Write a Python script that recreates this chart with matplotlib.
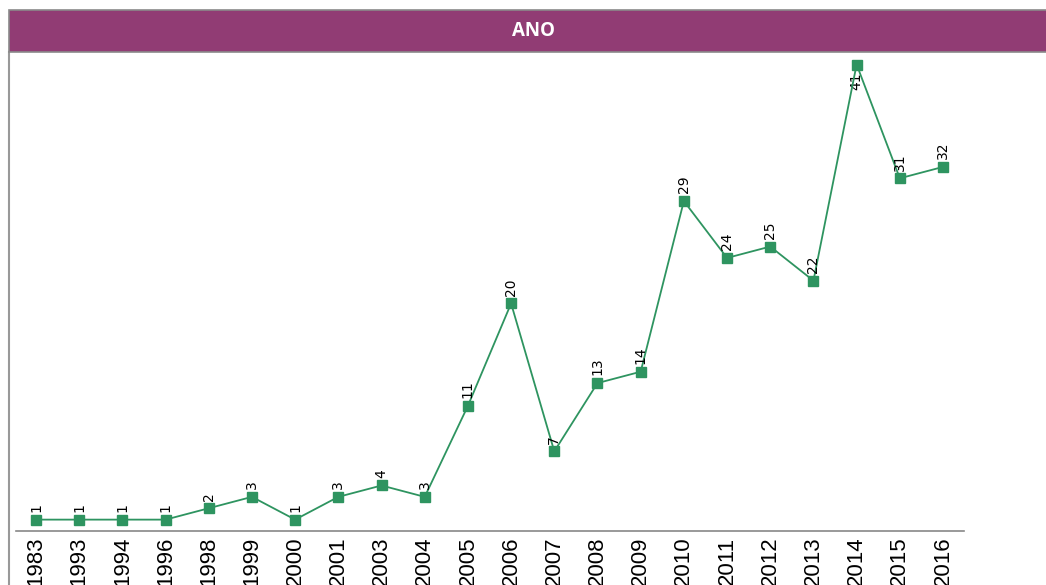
import matplotlib
matplotlib.use("Agg")
import matplotlib.pyplot as plt
from matplotlib.patches import Rectangle
from matplotlib.lines import Line2D

years = ["1983", "1993", "1994", "1996", "1998", "1999", "2000", "2001", "2003", "2004", "2005",
         "2006", "2007", "2008", "2009", "2010", "2011", "2012", "2013", "2014", "2015", "2016"]
counts = [1, 1, 1, 1, 2, 3, 1, 3, 4, 3, 11, 20, 7, 13, 14, 29, 24, 25, 22, 41, 31, 32]
title = "ANO"

W, H = 1046, 585
fig = plt.figure(figsize=(W / 100, H / 100), dpi=100)
fig.patch.set_facecolor("white")

ax = fig.add_axes([16 / W, (H - 531) / H, (964 - 16) / W, (531 - 52) / H])
x = list(range(len(years)))
ax.plot(x, counts, color="#2e9460", lw=1.3, marker="s", ms=7.5, mec="#2e9460", mfc="#2e9460", zorder=3)
ax.set_xlim(-0.463, len(years) - 0.514)
ax.set_ylim(0, 42.1)
ax.set_yticks([])
ax.set_xticks(x)
ax.set_xticklabels(years, rotation=90, fontsize=16, family="Liberation Sans", va="top", ha="center")
ax.tick_params(axis="x", length=0, pad=4)
for s in ["top", "right", "left"]:
    ax.spines[s].set_visible(False)
ax.spines["bottom"].set_color("#888888")
ax.spines["bottom"].set_linewidth(1.2)

ymax = max(counts)
for xi, v in zip(x, counts):
    if v == ymax:
        ax.annotate(str(v), (xi, v), xytext=(0, -5.5), textcoords="offset points", rotation=90,
                    ha="center", va="top", fontsize=10, color="black", zorder=2)
    else:
        ax.annotate(str(v), (xi, v), xytext=(0, 5.5), textcoords="offset points", rotation=90,
                    ha="center", va="bottom", fontsize=10, color="black")

# header bar
fig.patches.append(Rectangle((9 / W, (H - 52) / H), (W + 20 - 9) / W, 42 / H, transform=fig.transFigure,
                             facecolor="#913c74", edgecolor="#8a8a8a", lw=1.2, zorder=5))
fig.text(533 / W, (H - 31) / H, title, color="white", fontsize=13.5, fontweight="bold", family="Open Sans",
         ha="center", va="center", zorder=6)
# left border line
fig.lines.append(Line2D([9 / W, 9 / W], [0, (H - 52) / H], transform=fig.transFigure, color="#999999", lw=1.5))

fig.savefig("out.png", dpi=100)
